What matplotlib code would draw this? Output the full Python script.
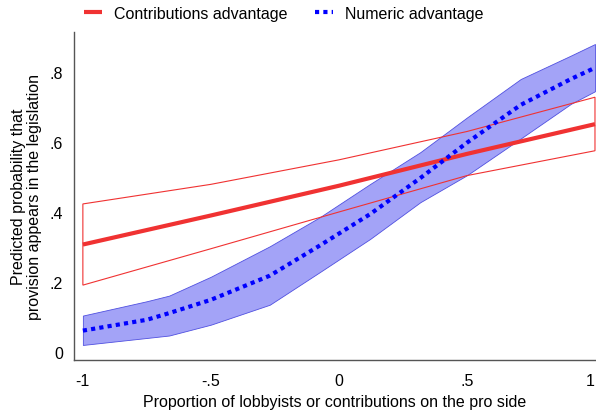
import matplotlib
import matplotlib.pyplot as plt
import numpy as np

matplotlib.use("Agg")

plt.rcParams["font.family"] = ["Liberation Sans", "DejaVu Sans"]

# proportion on the pro side
x_contrib = [-1.0, -0.5, 0.0, 0.5, 1.0]
contrib_mean = [0.307, 0.390, 0.475, 0.566, 0.651]
contrib_hi = [0.423, 0.479, 0.549, 0.630, 0.728]
contrib_lo = [0.191, 0.295, 0.400, 0.504, 0.575]

x_numeric = [-1.0, -0.75, -0.663, -0.5, -0.27, -0.075, 0.122, 0.318, 0.5, 0.71, 0.906, 1.0]
numeric_mean = [0.061, 0.092, 0.111, 0.149, 0.218, 0.304, 0.394, 0.497, 0.598, 0.706, 0.780, 0.812]
numeric_hi = [0.104, 0.145, 0.161, 0.215, 0.302, 0.385, 0.480, 0.571, 0.670, 0.780, 0.847, 0.880]
numeric_lo = [0.020, 0.040, 0.047, 0.078, 0.135, 0.228, 0.323, 0.428, 0.505, 0.610, 0.709, 0.745]

xticks = [-1, -0.5, 0, 0.5, 1]
xtick_labels = ["-1", "-.5", "0", ".5", "1"]
yticks = [0, 0.2, 0.4, 0.6, 0.8]
ytick_labels = ["0", ".2", ".4", ".6", ".8"]

RED = "#f03232"
BLUE = "#0000ff"
FS = 11.5

fig = plt.figure(figsize=(5.96, 4.14), dpi=100)
ax = fig.add_axes([0.124, 0.128, 0.876, 0.792])

# numeric advantage band
ax.fill_between(x_numeric, numeric_lo, numeric_hi, facecolor="#a3a3f7",
                edgecolor="#5050e0", linewidth=0.6, zorder=1)

# contributions advantage CI outline
poly_x = list(x_contrib) + list(x_contrib[::-1])
poly_y = list(contrib_hi) + list(contrib_lo[::-1])
ax.fill(poly_x, poly_y, facecolor="none", edgecolor=RED, linewidth=0.8, zorder=2)

ax.plot(x_contrib, contrib_mean, color=RED, linewidth=3, solid_capstyle="butt",
        label="Contributions advantage", zorder=3)
ax.plot(x_numeric, numeric_mean, color=BLUE, linewidth=3, linestyle=(0, (1, 1)),
        label="Numeric advantage", zorder=4)

ax.set_xlim(-1.035, 1.004)
ax.set_ylim(-0.023, 0.914)
ax.set_xticks(xticks)
ax.set_xticklabels(xtick_labels)
ax.set_yticks(yticks)
ax.set_yticklabels(ytick_labels)
ax.tick_params(length=0, labelsize=FS)
ax.tick_params(axis="x", pad=9)
ax.tick_params(axis="y", pad=8)
# last x label sits on the figure edge
ax.get_xticklabels()[-1].set_horizontalalignment("right")

for side in ["top", "right"]:
    ax.spines[side].set_visible(False)
for side in ["left", "bottom"]:
    ax.spines[side].set_color("#555555")
    ax.spines[side].set_linewidth(1.0)

ax.set_xlabel("Proportion of lobbyists or contributions on the pro side", fontsize=FS, labelpad=5)
ax.set_ylabel("Predicted probability that\nprovision appears in the legislation",
              fontsize=FS, labelpad=5, linespacing=1.1)

fig.legend(loc="center left", bbox_to_anchor=(84 / 596, 1 - 14 / 414), ncol=2, frameon=False,
           fontsize=FS, handlelength=1.1, handletextpad=0.75, columnspacing=1.75,
           borderaxespad=0, borderpad=0)

fig.savefig("out.png", dpi=100)
